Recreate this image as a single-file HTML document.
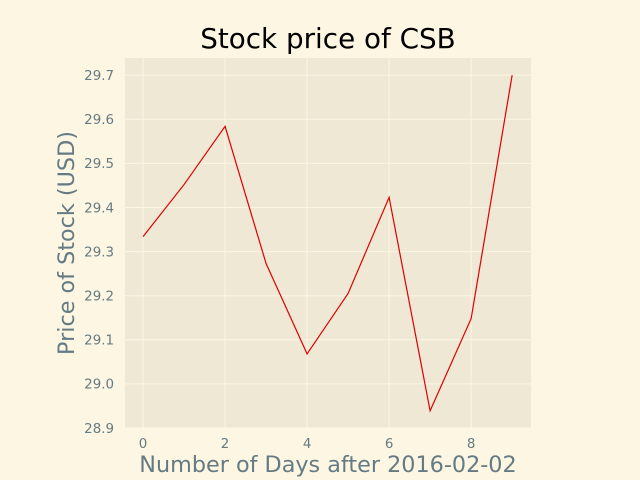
<!DOCTYPE html>
<html><head><meta charset="utf-8"><style>
body{margin:0;background:#FDF6E3;}
svg{display:block;font-family:"DejaVu Sans","Liberation Sans",sans-serif;}
</style></head><body>
<svg id="chart" width="640" height="480">
<rect width="640" height="480" fill="#FDF6E3"/>
<rect x="125" y="58" width="406" height="370" fill="#EEE8D5"/>
<g id="grid"></g><g id="ticks"></g>
<polyline id="line" fill="none" stroke="#e00000" stroke-width="1.2"/>
<text x="328" y="48" font-size="27.8" text-anchor="middle" fill="#000">Stock price of CSB</text>
<text x="328" y="472" font-size="22.3" text-anchor="middle" fill="#657b83">Number of Days after 2016-02-02</text>
<text transform="translate(74,243) rotate(-90)" font-size="22.3" text-anchor="middle" fill="#657b83">Price of Stock (USD)</text>
</svg>
<script>
const days=[0,1,2,3,4,5,6,7,8,9];
const prices=[29.334,29.452,29.584,29.273,29.068,29.205,29.423,28.939,29.148,29.700];
const xTicks=[0,2,4,6,8];
const yTicks=[28.9,29.0,29.1,29.2,29.3,29.4,29.5,29.6,29.7];
const X0=125,X1=531,Y0=428,Y1=58,xmin=-0.44,xmax=9.46,ymin=28.9,ymax=29.739;
const sx=v=>X0+(v-xmin)/(xmax-xmin)*(X1-X0);
const sy=v=>Y0-(v-ymin)/(ymax-ymin)*(Y0-Y1);
const NS="http://www.w3.org/2000/svg";
const grid=document.getElementById('grid'),ticks=document.getElementById('ticks');
function mk(tag,attrs,parent){const e=document.createElementNS(NS,tag);for(const k in attrs)e.setAttribute(k,attrs[k]);parent.appendChild(e);return e;}
xTicks.forEach(t=>{const x=sx(t);
const g=mk('line',{x1:x,x2:x,y1:Y1,y2:Y0,stroke:'#FDF6E3','stroke-width':1},grid);


const l=mk('text',{x:x,y:Y0+20,'font-size':13.4,'text-anchor':'middle',fill:'#657b83'},ticks);l.textContent=t;

});
yTicks.forEach(t=>{const y=sy(t);
const g=mk('line',{x1:X0,x2:X1,y1:y,y2:y,stroke:'#FDF6E3','stroke-width':1},grid);


const l=mk('text',{x:X0-11,y:y+4.8,'font-size':13.4,'text-anchor':'end',fill:'#657b83'},ticks);l.textContent=t.toFixed(1);

});
document.getElementById('line').setAttribute('points',days.map((d,i)=>sx(d)+','+sy(prices[i])).join(' '));
</script>
</body></html>
